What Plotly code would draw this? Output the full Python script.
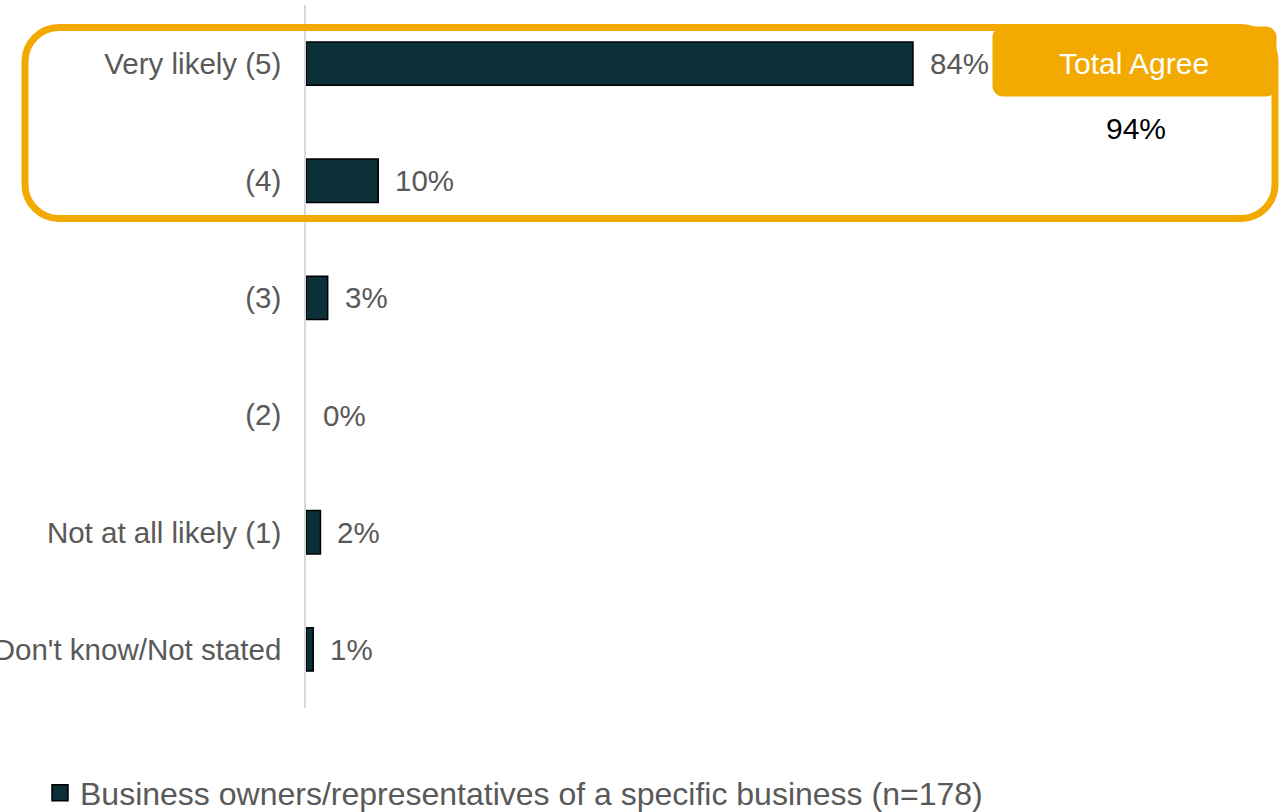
import plotly.graph_objects as go

# Survey responses (share of respondents, %)
categories = [
    "Very likely (5)",
    "(4)",
    "(3)",
    "(2)",
    "Not at all likely (1)",
    "Don't know/Not stated",
]
values = [84, 10, 3, 0, 2, 1]
series_name = "Business owners/representatives of a specific business (n=178)"
total_label = "Total Agree"
total_agree = values[0] + values[1]

BAR_COLOR = "#0B3038"
ORANGE = "#F2A900"
TEXT_GREY = "#595959"
FONT = "Liberation Sans, Arial, sans-serif"

W, H = 1281, 812
L, R, T, B = 306, 11, 5, 104
PW, PH = W - L - R, H - T - B
PX_PER_PCT = 7.226


def px(x):
    return (x - L) / PW


def py(y):
    return (H - B - y) / PH


def rounded_rect(x0, y0, x1, y1, r):
    k = 0.5523 * r
    pts = [
        ("M", [(x0 + r, y0)]),
        ("L", [(x1 - r, y0)]),
        ("C", [(x1 - r + k, y0), (x1, y0 + r - k), (x1, y0 + r)]),
        ("L", [(x1, y1 - r)]),
        ("C", [(x1, y1 - r + k), (x1 - r + k, y1), (x1 - r, y1)]),
        ("L", [(x0 + r, y1)]),
        ("C", [(x0 + r - k, y1), (x0, y1 - r + k), (x0, y1 - r)]),
        ("L", [(x0, y0 + r)]),
        ("C", [(x0, y0 + r - k), (x0 + r - k, y0), (x0 + r, y0)]),
    ]
    out = []
    for cmd, coords in pts:
        out.append(cmd + " ".join(f"{px(a):.5f},{py(b):.5f}" for a, b in coords))
    return " ".join(out) + " Z"


fig = go.Figure()
fig.add_trace(
    go.Bar(
        y=categories,
        x=values,
        orientation="h",
        name=series_name,
        legendgroup="s1",
        showlegend=False,
        marker=dict(
            color=BAR_COLOR,
            line=dict(color="#000000", width=[1.5 if v > 0 else 0 for v in values]),
        ),
    )
)
# legend entry with a larger square key
fig.add_trace(
    go.Scatter(
        x=[None], y=[None], mode="markers", name=series_name, legendgroup="s1",
        marker=dict(symbol="square", size=16, color=BAR_COLOR,
                    line=dict(color="#000000", width=1.5)),
        hoverinfo="skip",
    )
)

# value labels to the right of each bar
for cat, v in zip(categories, values):
    fig.add_annotation(
        x=v, y=cat, xref="x", yref="y", text=f"{v}%", showarrow=False,
        xanchor="left", yanchor="middle", xshift=15,
        font=dict(family=FONT, size=29.5, color=TEXT_GREY),
    )

# highlight frame around the top-two-box responses
fig.add_shape(
    type="path", xref="paper", yref="paper",
    path=rounded_rect(25, 27.5, 1275, 218.5, 34),
    line=dict(color=ORANGE, width=7), fillcolor="rgba(0,0,0,0)", layer="above",
)
fig.add_shape(
    type="path", xref="paper", yref="paper",
    path=rounded_rect(993, 27, 1276, 96, 10),
    line=dict(color=ORANGE, width=1), fillcolor=ORANGE, layer="above",
)
fig.add_annotation(
    x=px(1134), y=py(64), xref="paper", yref="paper", text=total_label,
    xanchor="center", yanchor="middle",
    showarrow=False, font=dict(family=FONT, size=30, color="#FFFFFF"),
)
fig.add_annotation(
    x=px(1136), y=py(128), xref="paper", yref="paper", text=f"{total_agree}%",
    xanchor="center", yanchor="middle",
    showarrow=False, font=dict(family=FONT, size=30, color="#000000"),
)

fig.update_layout(
    width=W, height=H,
    margin=dict(l=L, r=R, t=T, b=B, pad=0, autoexpand=False),
    paper_bgcolor="#FFFFFF", plot_bgcolor="#FFFFFF",
    bargap=0.63,
    font=dict(family=FONT, color=TEXT_GREY),
    xaxis=dict(
        range=[0, PW / PX_PER_PCT], visible=False, fixedrange=True,
        automargin=False,
    ),
    yaxis=dict(
        categoryorder="array", categoryarray=categories, autorange="reversed",
        showline=True, linecolor="#D9D9D9", linewidth=1.5,
        showgrid=False, zeroline=False, ticks="", automargin=False,
        ticklabelstandoff=17,
        tickfont=dict(family=FONT, size=29.5, color=TEXT_GREY),
    ),
    legend=dict(
        orientation="h", x=px(40), y=py(793), xanchor="left", yanchor="middle",
        font=dict(family=FONT, size=32, color=TEXT_GREY),
        bgcolor="rgba(0,0,0,0)", itemsizing="trace", itemwidth=30,
    ),
)

fig.write_html("out.html")
